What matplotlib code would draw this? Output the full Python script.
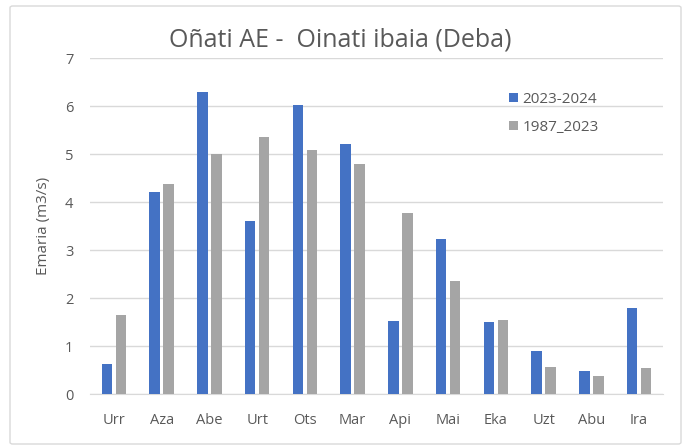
import numpy as np
import matplotlib.pyplot as plt
from matplotlib.patches import FancyBboxPatch

# Hilabeteak eta emariak (m3/s)
hilabeteak = ['Urr', 'Aza', 'Abe', 'Urt', 'Ots', 'Mar', 'Api', 'Mai', 'Eka', 'Uzt', 'Abu', 'Ira']
emaria_2023_2024 = [0.62, 4.21, 6.30, 3.61, 6.03, 5.21, 1.52, 3.22, 1.50, 0.90, 0.48, 1.80]
emaria_1987_2023 = [1.64, 4.37, 5.00, 5.35, 5.09, 4.79, 3.77, 2.36, 1.54, 0.56, 0.38, 0.54]

plt.rcParams['font.family'] = ['Open Sans', 'DejaVu Sans']
testu_kolorea = '#595959'

fig = plt.figure(figsize=(6.87, 4.48), dpi=100)

# Kanpoko markoa
fig.patches.append(FancyBboxPatch((10 / 687, 4 / 448), 671 / 687, 438 / 448,
                                  boxstyle='round,pad=0,rounding_size=0.004',
                                  transform=fig.transFigure, facecolor='none',
                                  edgecolor='#d9d9d9', linewidth=1.0, zorder=5))

ax = fig.add_axes([90 / 687, 1 - 394 / 448, 573 / 687, 336 / 448])
x = np.arange(len(hilabeteak))
w = 0.22
ax.bar(x - 0.145, emaria_2023_2024, w, color='#4472c4', label='2023-2024', zorder=3)
ax.bar(x + 0.145, emaria_1987_2023, w, color='#a5a5a5', label='1987_2023', zorder=3)

ax.set_xlim(-0.5, len(hilabeteak) - 0.5)
ax.set_ylim(0, 7)
ax.set_yticks(range(8))
ax.set_xticks(x)
ax.set_xticklabels(hilabeteak)
ax.grid(axis='y', color='#d9d9d9', linewidth=1.0, zorder=0)
for s in ['top', 'right', 'left']:
    ax.spines[s].set_visible(False)
ax.spines['bottom'].set_color('#d9d9d9')
ax.tick_params(length=0, colors=testu_kolorea, labelsize=10.5)
ax.tick_params(axis='x', pad=14)
ax.tick_params(axis='y', pad=12)
ax.set_ylabel('Emaria (m3/s)', color=testu_kolorea, fontsize=11, labelpad=10)
ax.patch.set_alpha(0)

fig.text(340 / 687, 1 - 40 / 448, 'Oñati AE -  Oinati ibaia (Deba)', ha='center', va='center',
         fontsize=18, color=testu_kolorea)

ax.legend(loc='upper left', bbox_to_anchor=(0.708, 0.94), frameon=False, fontsize=11,
          labelcolor=testu_kolorea, handlelength=0.55, handleheight=0.55, handletextpad=0.3,
          labelspacing=0.85)

plt.savefig('out.png', dpi=100)
